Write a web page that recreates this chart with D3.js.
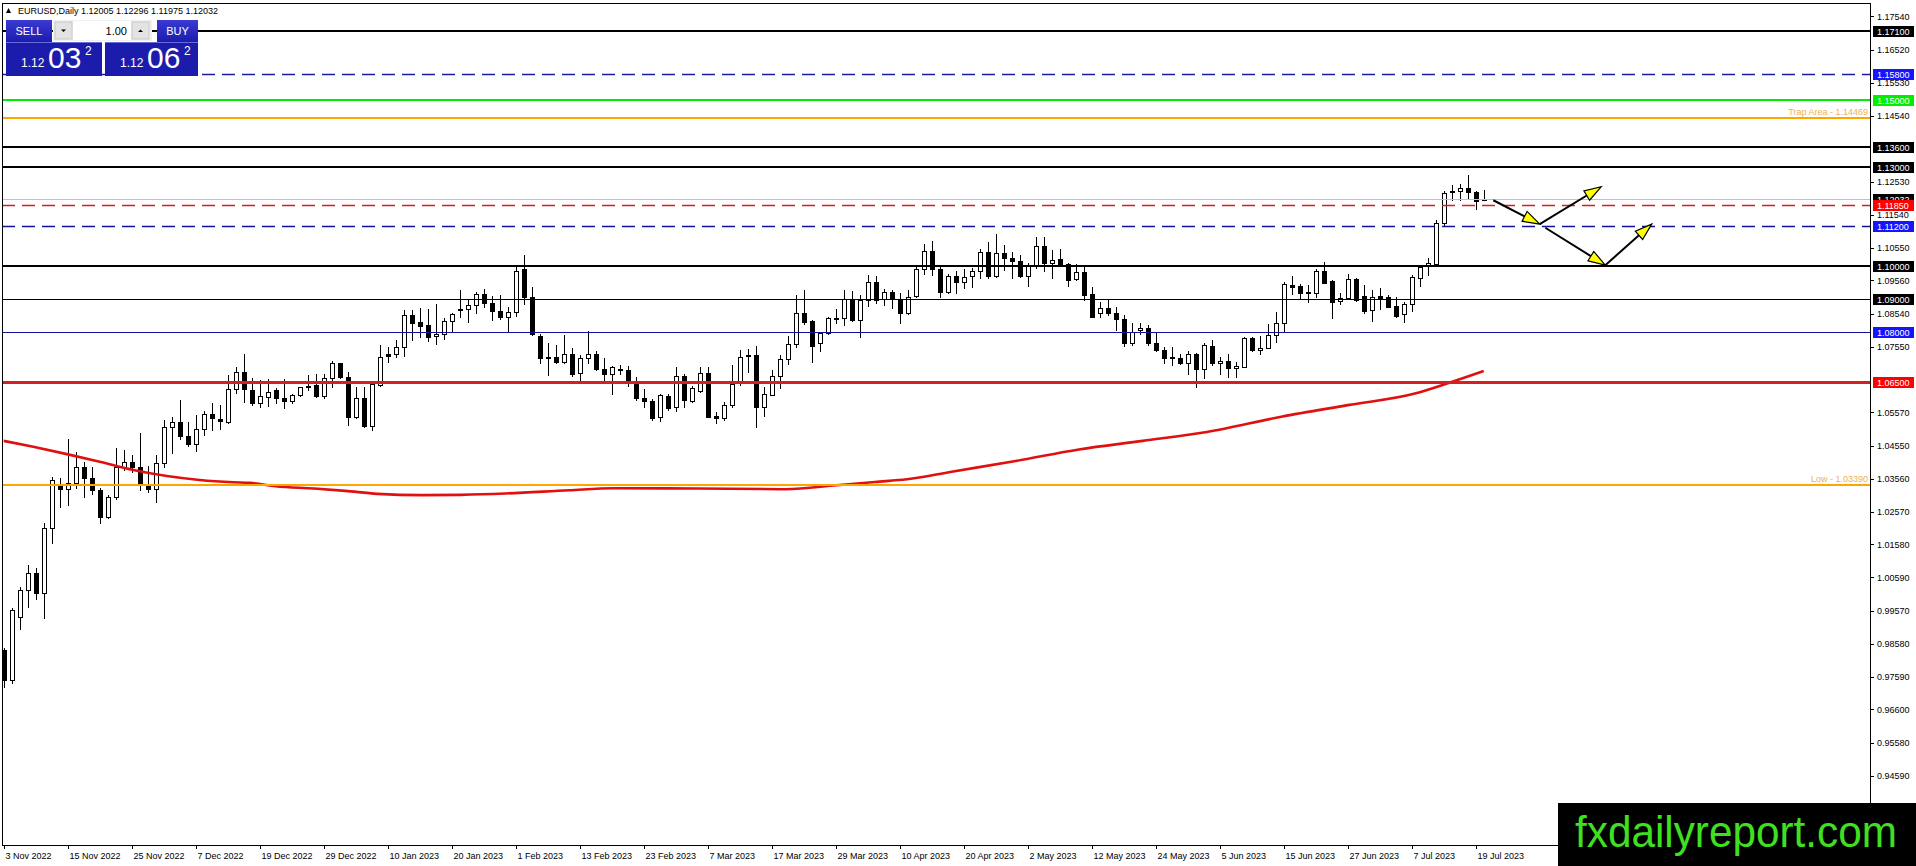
<!DOCTYPE html>
<html><head><meta charset="utf-8">
<script src="https://cdn.jsdelivr.net/npm/d3@7/dist/d3.min.js"></script>
<style>html,body{margin:0;padding:0;background:#fff;overflow:hidden}svg{display:block}text{font-family:"Liberation Sans",Arial,sans-serif}</style>
</head><body><svg id="c" width="1916" height="866"></svg>
<script>
// ---------- DATA ----------
const symbolTitle = "EURUSD,Daily";
const lastQuote = ["1.12005", "1.12296", "1.11975", "1.12032"];
const lotSize = "1.00";
const sellQuote = ["1.12", "03", "2"];
const buyQuote = ["1.12", "06", "2"];

const opens = [0.9839,0.9748,0.9940,1.0020,1.0071,1.0010,1.0207,1.0335,1.0325,1.0345,
1.0391,1.0360,1.0322,1.0240,1.0300,1.0393,1.0408,1.0391,1.0334,1.0326,
1.0403,1.0514,1.0527,1.0486,1.0463,1.0506,1.0552,1.0536,1.0529,1.0629,
1.0680,1.0624,1.0584,1.0604,1.0624,1.0602,1.0592,1.0611,1.0637,1.0641,
1.0608,1.0660,1.0705,1.0665,1.0544,1.0602,1.0516,1.0640,1.0732,1.0732,
1.0754,1.0851,1.0829,1.0821,1.0788,1.0794,1.0833,1.0869,1.0868,1.0883,
1.0914,1.0889,1.0864,1.0846,1.0861,1.0989,1.0907,1.0788,1.0724,1.0723,
1.0708,1.0735,1.0675,1.0720,1.0735,1.0687,1.0672,1.0687,1.0685,1.0647,
1.0602,1.0592,1.0544,1.0606,1.0572,1.0668,1.0592,1.0622,1.0677,1.0547,
1.0541,1.0579,1.0645,1.0728,1.0730,1.0574,1.0611,1.0668,1.0717,1.0765,
1.0856,1.0833,1.0768,1.0796,1.0842,1.0842,1.0901,1.0836,1.0896,1.0951,
1.0900,1.0920,1.0896,1.0856,1.0910,1.0989,1.1045,1.0989,1.0922,1.0970,
1.0952,1.0969,1.0984,1.1042,1.0969,1.1040,1.1025,1.1015,1.0970,1.0999,
1.1060,1.1009,1.1022,1.1004,1.0959,1.0982,1.0914,1.0856,1.0871,1.0858,
1.0838,1.0767,1.0806,1.0811,1.0767,1.0747,1.0723,1.0720,1.0705,1.0732,
1.0687,1.0758,1.0705,1.0712,1.0690,1.0695,1.0781,1.0745,1.0753,1.0791,
1.0826,1.0942,1.0939,1.0920,1.0917,1.0984,1.0954,1.0893,1.0904,1.0960,
1.0909,1.0866,1.0908,1.0906,1.0878,1.0854,1.0886,1.0962,1.1002,1.1005,
1.1128,1.1225,1.1226,1.1234,1.1224,1.12005];
const highs = [0.9844,0.9965,1.0030,1.0096,1.0086,1.0222,1.0363,1.0358,1.0478,1.0436,
1.0408,1.0393,1.0330,1.0307,1.0448,1.0443,1.0428,1.0496,1.0395,1.0428,
1.0534,1.0544,1.0594,1.0529,1.0549,1.0562,1.0586,1.0579,1.0670,1.0695,
1.0735,1.0660,1.0655,1.0657,1.0630,1.0657,1.0614,1.0635,1.0670,1.0673,
1.0673,1.0712,1.0707,1.0680,1.0633,1.0633,1.0645,1.0761,1.0755,1.0776,
1.0866,1.0866,1.0871,1.0868,1.0886,1.0841,1.0858,1.0927,1.0896,1.0922,
1.0929,1.0909,1.0911,1.0874,1.0997,1.1032,1.0937,1.0794,1.0766,1.0761,
1.0791,1.0752,1.0730,1.0803,1.0743,1.0720,1.0697,1.0700,1.0697,1.0663,
1.0627,1.0599,1.0614,1.0614,1.0693,1.0673,1.0637,1.0695,1.0695,1.0559,
1.0589,1.0700,1.0747,1.0750,1.0758,1.0635,1.0685,1.0730,1.0788,1.0911,
1.0928,1.0836,1.0798,1.0846,1.0868,1.0927,1.0925,1.0913,1.0972,1.0969,
1.0929,1.0927,1.0917,1.0927,1.0999,1.1066,1.1075,1.0997,1.0975,1.0984,
1.0989,1.0992,1.1052,1.1073,1.1096,1.1063,1.1043,1.1032,1.1007,1.1088,
1.1088,1.1047,1.1052,1.1007,1.1004,1.0997,1.0935,1.0891,1.0901,1.0874,
1.0851,1.0826,1.0826,1.0821,1.0798,1.0755,1.0755,1.0735,1.0743,1.0738,
1.0767,1.0777,1.0725,1.0733,1.0710,1.0784,1.0784,1.0788,1.0824,1.0861,
1.0952,1.0969,1.0945,1.0942,1.0990,1.1010,1.0957,1.0919,1.0974,1.0964,
1.0942,1.0928,1.0932,1.0911,1.0906,1.0891,1.0972,1.1002,1.1025,1.1138,
1.1226,1.1244,1.1246,1.1274,1.1226,1.12296];
const lows = [0.9728,0.9740,0.9904,0.9970,0.9992,0.9935,1.0161,1.0270,1.0277,1.0330,
1.0302,1.0312,1.0222,1.0237,1.0294,1.0383,1.0377,1.0324,1.0317,1.0287,
1.0393,1.0435,1.0478,1.0455,1.0441,1.0489,1.0504,1.0506,1.0526,1.0616,
1.0589,1.0579,1.0574,1.0576,1.0586,1.0571,1.0584,1.0608,1.0624,1.0604,
1.0602,1.0635,1.0660,1.0519,1.0539,1.0514,1.0504,1.0637,1.0710,1.0725,
1.0727,1.0776,1.0786,1.0773,1.0764,1.0778,1.0801,1.0844,1.0831,1.0856,
1.0874,1.0836,1.0838,1.0799,1.0848,1.0884,1.0791,1.0707,1.0670,1.0707,
1.0707,1.0667,1.0650,1.0705,1.0685,1.0653,1.0612,1.0672,1.0637,1.0596,
1.0574,1.0534,1.0532,1.0564,1.0562,1.0574,1.0589,1.0619,1.0542,1.0524,
1.0534,1.0574,1.0640,1.0680,1.0514,1.0546,1.0609,1.0630,1.0703,1.0755,
1.0824,1.0710,1.0743,1.0794,1.0828,1.0821,1.0834,1.0786,1.0878,1.0888,
1.0881,1.0873,1.0828,1.0854,1.0906,1.0975,1.0972,1.0906,1.0919,1.0917,
1.0932,1.0937,1.0964,1.0962,1.0965,1.0987,1.0962,1.0965,1.0939,1.0992,
1.0984,1.0964,1.0999,1.0939,1.0957,1.0898,1.0844,1.0844,1.0851,1.0806,
1.0758,1.0760,1.0793,1.0760,1.0742,1.0705,1.0700,1.0703,1.0673,1.0633,
1.0660,1.0700,1.0673,1.0665,1.0665,1.0693,1.0742,1.0733,1.0751,1.0771,
1.0801,1.0914,1.0901,1.0891,1.0905,1.0947,1.0843,1.0886,1.0901,1.0894,
1.0858,1.0834,1.0868,1.0874,1.0846,1.0831,1.0864,1.0939,1.0972,1.1002,
1.1123,1.1200,1.1200,1.1204,1.1173,1.11975];
const closes = [0.9748,0.9960,1.0020,1.0071,1.0010,1.0207,1.0353,1.0325,1.0345,1.0391,
1.0360,1.0322,1.0240,1.0300,1.0393,1.0408,1.0393,1.0342,1.0326,1.0403,
1.0514,1.0529,1.0486,1.0461,1.0506,1.0552,1.0539,1.0532,1.0629,1.0680,
1.0627,1.0584,1.0606,1.0620,1.0601,1.0592,1.0611,1.0633,1.0633,1.0608,
1.0660,1.0705,1.0665,1.0544,1.0602,1.0516,1.0642,1.0725,1.0728,1.0754,
1.0851,1.0828,1.0819,1.0786,1.0793,1.0833,1.0854,1.0866,1.0883,1.0914,
1.0888,1.0864,1.0846,1.0859,1.0985,1.0907,1.0794,1.0722,1.0722,1.0710,
1.0735,1.0673,1.0720,1.0735,1.0687,1.0672,1.0695,1.0685,1.0645,1.0602,
1.0592,1.0541,1.0609,1.0571,1.0667,1.0594,1.0632,1.0677,1.0544,1.0541,
1.0579,1.0643,1.0725,1.0730,1.0574,1.0612,1.0667,1.0717,1.0765,1.0856,
1.0831,1.0758,1.0796,1.0843,1.0843,1.0901,1.0836,1.0896,1.0951,1.0898,
1.0920,1.0899,1.0858,1.0906,1.0989,1.1045,1.0989,1.0922,1.0970,1.0952,
1.0967,1.0985,1.1042,1.0970,1.1040,1.1025,1.1015,1.0970,1.0999,1.1060,
1.1009,1.1017,1.1002,1.0957,1.0982,1.0912,1.0846,1.0871,1.0858,1.0838,
1.0767,1.0801,1.0811,1.0767,1.0745,1.0722,1.0722,1.0705,1.0732,1.0687,
1.0760,1.0705,1.0712,1.0690,1.0697,1.0781,1.0747,1.0753,1.0791,1.0828,
1.0944,1.0937,1.0919,1.0917,1.0984,1.0949,1.0891,1.0904,1.0959,1.0896,
1.0864,1.0906,1.0904,1.0876,1.0849,1.0886,1.0965,1.0997,1.1007,1.1128,
1.1221,1.1226,1.1234,1.1224,1.1197,1.12032];

// moving average: bar position -> value
const maBars = [0,3.7,7.9,12,16.2,20.4,24.5,28.7,30.8,34,38.8,42.7,46.7,52.3,57.1,62.7,70.7,76.2,86.6,97.8,104.1,108.9,112.9,118.5,126.5,134.4,142.4,150.4,159.7,168,176.4,180.5,185];
const maValues = [1.0471,1.0453,1.0431,1.0408,1.0383,1.0365,1.0353,1.0346,1.0344,1.0334,1.0327,1.0320,1.0311,1.0307,1.0308,1.0312,1.0322,1.0328,1.0327,1.0325,1.0337,1.0347,1.0355,1.0378,1.0410,1.0445,1.0471,1.0498,1.0544,1.0579,1.0614,1.0645,1.0682];

const dateTicks = ["3 Nov 2022","15 Nov 2022","25 Nov 2022","7 Dec 2022","19 Dec 2022","29 Dec 2022","10 Jan 2023","20 Jan 2023","1 Feb 2023","13 Feb 2023","23 Feb 2023","7 Mar 2023","17 Mar 2023","29 Mar 2023","10 Apr 2023","20 Apr 2023","2 May 2023","12 May 2023","24 May 2023","5 Jun 2023","15 Jun 2023","27 Jun 2023","7 Jul 2023","19 Jul 2023"];
const dateTickBars = [0,8,16,24,32,40,48,56,64,72,80,88,96,104,112,120,128,136,144,152,160,168,176,184];

const priceTicks = ["1.17540","1.16520","1.15530","1.14540","1.12530","1.11540","1.10550","1.09560","1.08540","1.07550","1.05570","1.04550","1.03560","1.02570","1.01580","1.00590","0.99570","0.98580","0.97590","0.96600","0.95580","0.94590"];

const levelPrices = [1.17100, 1.15800, 1.15000, 1.14469, 1.13600, 1.13000, 1.11850, 1.11200, 1.10000, 1.09000, 1.08000, 1.06500, 1.03390];
const levelTexts = ["", "", "", "Trap Area - 1.14469", "", "", "", "", "", "", "", "", "Low - 1.03390"];
const currentPrice = 1.12032;

// arrows: [fromBar, fromPrice, toBar, toPrice]
const arrowsData = [
  [186.2, 1.1198, 192.0, 1.1126],
  [192.0, 1.1126, 199.7, 1.1239],
  [192.7, 1.1115, 200.2, 1.1002],
  [200.2, 1.1002, 206.0, 1.1126]
];
const watermark = "fxdailyreport.com";

// ---------- STYLES (kept separate from data) ----------
const levelStyle = [
  {c:"#000000", w:2, d:null, box:"#000000"},
  {c:"#1a1aa6", w:1.3, d:"13,7", box:"#1414ff"},
  {c:"#00ee00", w:2, d:null, box:"#00ee00"},
  {c:"#ffa500", w:2, d:null, box:null, tc:"#f2b04c"},
  {c:"#000000", w:2, d:null, box:"#000000"},
  {c:"#000000", w:2, d:null, box:"#000000"},
  {c:"#d02020", w:1.3, d:"13,7", box:"#ff0000"},
  {c:"#10109a", w:1.3, d:"13,7", box:"#1414ff"},
  {c:"#000000", w:2, d:null, box:"#000000"},
  {c:"#000000", w:1, d:null, box:"#000000"},
  {c:"#1010a0", w:1, d:null, box:"#1414ff"},
  {c:"#d42020", w:3, d:null, box:"#ff0000"},
  {c:"#ffa500", w:2, d:null, box:null, tc:"#f2b04c"}
];

// ---------- DRAW ----------
const svg = d3.select("#c");
const L = 2, R = 1870, T = 3, B = 845;
const x = d3.scaleLinear().domain([0, 100]).range([3.7, 803.7]);
const y = d3.scaleLinear().domain([0.925, 1.1794]).range([B, T]);

svg.append("rect").attr("width",1916).attr("height",866).attr("fill","#fff");
const defs = svg.append("defs");
defs.append("clipPath").attr("id","plot")
  .append("rect").attr("x",L+1).attr("y",T+1).attr("width",R-L-1).attr("height",B-T-1);

const plot = svg.append("g").attr("clip-path","url(#plot)");

// candles
const idx = d3.range(opens.length);
const cg = plot.append("g").attr("shape-rendering","crispEdges");
idx.forEach(i => {
  const cx = Math.round(x(i));
  cg.append("line").attr("x1",cx+0.5).attr("x2",cx+0.5)
    .attr("y1",Math.round(y(highs[i]))).attr("y2",Math.round(y(lows[i]))+1)
    .attr("stroke","#000").attr("stroke-width",1);
  const top = Math.round(y(Math.max(opens[i],closes[i])));
  const bot = Math.round(y(Math.min(opens[i],closes[i])));
  const up = closes[i] >= opens[i];
  cg.append("rect").attr("x",cx-1.5).attr("y",top+0.5)
    .attr("width",4).attr("height",Math.max(bot-top,1))
    .attr("fill", up ? "#fff" : "#000").attr("stroke","#000").attr("stroke-width",1);
});

// moving average
plot.append("path")
  .datum(d3.range(maBars.length))
  .attr("d", d3.line().x(k => x(maBars[k])).y(k => y(maValues[k])).curve(d3.curveMonotoneX))
  .attr("fill","none").attr("stroke","#e01010").attr("stroke-width",2.6);

// current price line
plot.append("line").attr("x1",L).attr("x2",R)
  .attr("y1",Math.round(y(currentPrice))+0.5).attr("y2",Math.round(y(currentPrice))+0.5)
  .attr("stroke","#c0c0c0").attr("stroke-width",1);

// horizontal levels
levelPrices.forEach((p,k) => {
  const s = levelStyle[k];
  const yy = Math.round(y(p)) + (s.w % 2 ? 0.5 : 0);
  const ln = plot.append("line").attr("x1",L).attr("x2",R).attr("y1",yy).attr("y2",yy)
    .attr("stroke",s.c).attr("stroke-width",s.w);
  if (s.d) ln.attr("stroke-dasharray",s.d);
  if (levelTexts[k]) {
    svg.append("text").attr("x",R-2).attr("y",y(p)-2.5).attr("text-anchor","end")
      .attr("font-size",9).attr("fill",s.tc).text(levelTexts[k]);
  }
});

// arrows
const ag = plot.append("g");
arrowsData.forEach(a => {
  const x0 = x(a[0]), y0 = y(a[1]), x1 = x(a[2]), y1 = y(a[3]);
  const dx = x1-x0, dy = y1-y0, len = Math.hypot(dx,dy), ux = dx/len, uy = dy/len;
  const hl = 17, hw = 5.5;
  const bx = x1-ux*hl, by = y1-uy*hl;
  ag.append("line").attr("x1",x0).attr("y1",y0).attr("x2",bx).attr("y2",by)
    .attr("stroke","#000").attr("stroke-width",2);
  ag.append("path").attr("d",`M${x1},${y1}L${bx-uy*hw},${by+ux*hw}L${bx+uy*hw},${by-ux*hw}Z`)
    .attr("fill","#ffff00").attr("stroke","#000").attr("stroke-width",1.2).attr("stroke-linejoin","miter");
});

// frame
svg.append("rect").attr("x",L+0.5).attr("y",T+0.5).attr("width",R-L).attr("height",B-T)
  .attr("fill","none").attr("stroke","#000").attr("stroke-width",1).attr("shape-rendering","crispEdges");

// right axis ticks & labels
const ra = svg.append("g");
priceTicks.forEach(t => {
  const yy = Math.round(y(+t))+0.5;
  ra.append("line").attr("x1",R).attr("x2",R+4).attr("y1",yy).attr("y2",yy).attr("stroke","#000").attr("shape-rendering","crispEdges");
  ra.append("text").attr("x",R+7).attr("y",y(+t)+3.3).attr("font-size",9).attr("fill","#000").text(t);
});
// current price label: partly hidden behind the 1.11850 label, as in the terminal
{
  const yy = Math.round(y(currentPrice));
  const hideTop = Math.round(y(levelPrices[6])) - 5;
  defs.append("clipPath").attr("id","cur").append("rect")
    .attr("x",R+3).attr("y",yy-5).attr("width",41).attr("height",hideTop-(yy-5));
  const g = ra.append("g").attr("clip-path","url(#cur)");
  g.append("rect").attr("x",R+3).attr("y",yy-5).attr("width",41).attr("height",11).attr("fill","#000").attr("shape-rendering","crispEdges");
  g.append("text").attr("x",R+7).attr("y",yy+3.5).attr("font-size",9).attr("fill","#fff").text(currentPrice.toFixed(5));
}
// boxed level labels
function boxLabel(p, color, txt) {
  const yy = Math.round(y(p));
  ra.append("rect").attr("x",R+3).attr("y",yy-5).attr("width",41).attr("height",11).attr("fill",color).attr("shape-rendering","crispEdges");
  ra.append("text").attr("x",R+7).attr("y",yy+3.5).attr("font-size",9).attr("fill","#fff").text(txt);
}
levelPrices.forEach((p,k) => { if (levelStyle[k].box) boxLabel(p, levelStyle[k].box, p.toFixed(5)); });

// bottom axis
const ba = svg.append("g");
dateTickBars.forEach((b,k) => {
  const xx = Math.round(x(b))+0.5;
  ba.append("line").attr("x1",xx).attr("x2",xx).attr("y1",B).attr("y2",B+4).attr("stroke","#000").attr("shape-rendering","crispEdges");
  ba.append("text").attr("x",xx+1).attr("y",859).attr("font-size",9).attr("fill","#000").text(dateTicks[k]);
});

// header
svg.append("path").attr("d","M6,13L8.5,8L11,13Z").attr("fill","#000");
svg.append("text").attr("x",18).attr("y",14).attr("font-size",9).attr("fill","#000")
  .text(symbolTitle + "  " + lastQuote.join(" "));

// one-click trading panel
const pn = svg.append("g");
const grad = defs.append("linearGradient").attr("id","btn").attr("x1",0).attr("x2",0).attr("y1",0).attr("y2",1);
grad.append("stop").attr("offset","0%").attr("stop-color","#3a3ad0");
grad.append("stop").attr("offset","100%").attr("stop-color","#1c1cae");
pn.append("rect").attr("x",6).attr("y",20).attr("width",46).attr("height",22).attr("fill","url(#btn)");
pn.append("text").attr("x",29).attr("y",35).attr("text-anchor","middle").attr("font-size",11).attr("fill","#fff").text("SELL");
pn.append("rect").attr("x",157).attr("y",20).attr("width",41).attr("height",22).attr("fill","url(#btn)");
pn.append("text").attr("x",177.5).attr("y",35).attr("text-anchor","middle").attr("font-size",11).attr("fill","#fff").text("BUY");
pn.append("rect").attr("x",53).attr("y",20).attr("width",99).attr("height",21).attr("fill","#f0f0f0");
pn.append("rect").attr("x",55).attr("y",22).attr("width",17).attr("height",17).attr("fill","#e3e3e3").attr("stroke","#c8c8c8");
pn.append("rect").attr("x",132).attr("y",22).attr("width",17).attr("height",17).attr("fill","#e3e3e3").attr("stroke","#c8c8c8");
pn.append("rect").attr("x",73).attr("y",21).attr("width",58).attr("height",19).attr("fill","#fff");
pn.append("path").attr("d","M61,29.5L66,29.5L63.5,32Z").attr("fill","#000");
pn.append("path").attr("d","M138,32L143,32L140.5,29.5Z").attr("fill","#000");
pn.append("text").attr("x",127).attr("y",35).attr("text-anchor","end").attr("font-size",11).attr("fill","#000").text(lotSize);
pn.append("rect").attr("x",6).attr("y",42).attr("width",96).attr("height",34).attr("fill","#1c1cac");
pn.append("rect").attr("x",105).attr("y",42).attr("width",93).attr("height",34).attr("fill","#1c1cac");
pn.append("line").attr("x1",6).attr("x2",102).attr("y1",42.5).attr("y2",42.5).attr("stroke","#6a6ae0");
pn.append("line").attr("x1",105).attr("x2",198).attr("y1",42.5).attr("y2",42.5).attr("stroke","#6a6ae0");
function quote(x0, q) {
  pn.append("text").attr("x",x0).attr("y",67).attr("font-size",12).attr("fill","#fff").text(q[0]);
  pn.append("text").attr("x",x0+27).attr("y",68).attr("font-size",30).attr("fill","#fff").text(q[1]);
  pn.append("text").attr("x",x0+64).attr("y",55).attr("font-size",12).attr("fill","#fff").text(q[2]);
}
quote(21, sellQuote);
quote(120, buyQuote);

// watermark
svg.append("rect").attr("x",1558).attr("y",803).attr("width",358).attr("height",63).attr("fill","#000");
svg.append("text").attr("x",1575).attr("y",847).attr("font-size",44).attr("fill","#3fe020")
  .attr("textLength",322).attr("lengthAdjust","spacingAndGlyphs").text(watermark);
</script></body></html>
